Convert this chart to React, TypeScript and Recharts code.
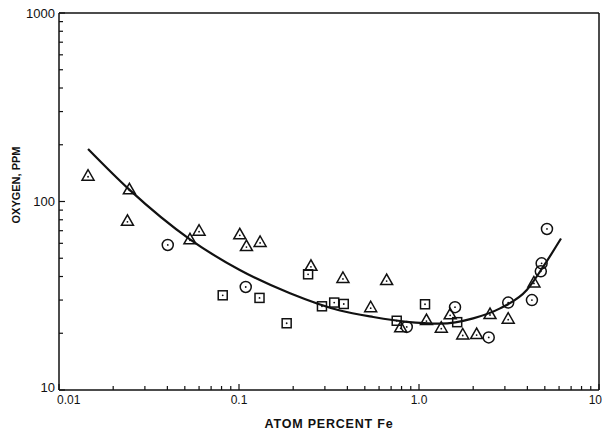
import {
  ComposedChart, Scatter, Line, XAxis, YAxis, ReferenceLine, Label,
} from 'recharts';

// 三角・丸・四角の測定点（atom % Fe, O ppm）
const triX = [0.0145, 0.0246, 0.024, 0.0534, 0.06, 0.101, 0.11, 0.131, 0.251, 0.378, 0.539, 0.661, 0.791, 1.1, 1.33, 1.49, 1.75, 2.09, 2.48, 3.13, 4.35];
const triY = [137, 116, 79, 63, 70, 67, 58, 61, 45.6, 39.3, 27.5, 38.3, 21.5, 23.5, 21.4, 25.2, 19.7, 19.8, 25.3, 23.9, 37.2];

const circX = [0.0402, 0.109, 0.855, 1.585, 2.44, 3.13, 4.24, 4.8, 4.75, 5.14];
const circY = [58.8, 35.2, 21.6, 27.5, 19.0, 29.1, 30.0, 47.0, 42.6, 71.5];

const sqX = [0.0812, 0.13, 0.184, 0.242, 0.289, 0.338, 0.382, 0.752, 1.08, 1.63];
const sqY = [31.8, 30.8, 22.6, 41.1, 27.8, 29.1, 28.6, 23.3, 28.5, 22.9];

// フィット曲線
const curveX = [0.0145, 0.0245, 0.0534, 0.101, 0.192, 0.364, 0.557, 0.855, 1.31, 2.0, 2.82, 3.97, 4.9, 6.15];
const curveY = [190, 116, 63, 43.3, 32.6, 26.4, 24.4, 23.0, 22.5, 24.0, 27.1, 33.9, 45.1, 63.6];

// 軸目盛
const X_MAJOR = [0.01, 0.1, 1, 10];
const X_LABELS = ['0.01', '0.1', '1.0', '10'];
const X_MINOR = [0.02, 0.03, 0.04, 0.05, 0.06, 0.07, 0.08, 0.09, 0.2, 0.3, 0.4, 0.5, 0.6, 0.7, 0.8, 0.9, 2, 3, 4, 5, 6, 7, 8, 9];
const Y_MAJOR = [10, 100, 1000];
const Y_LABELS = ['10', '100', '1000'];
const Y_MINOR = [20, 30, 40, 50, 60, 70, 80, 90, 200, 300, 400, 500, 600, 700, 800, 900];

const zip = (xs: number[], ys: number[]) => xs.map((x, i) => ({ x, y: ys[i] }));
const triData = zip(triX, triY);
const circData = zip(circX, circY);
const sqData = zip(sqX, sqY);
const curveData = zip(curveX, curveY);

const INK = '#111';
const FONT = '"Liberation Sans", Arial, sans-serif';

const Tri = ({ cx, cy }: any) => (
  <g>
    <polygon points={`${cx},${cy - 6} ${cx - 6},${cy + 4.5} ${cx + 6},${cy + 4.5}`} fill="none" stroke={INK} strokeWidth={1.5} />
    <circle cx={cx} cy={cy + 1} r={0.9} fill={INK} />
  </g>
);

const Circ = ({ cx, cy }: any) => (
  <g>
    <circle cx={cx} cy={cy} r={5.5} fill="none" stroke={INK} strokeWidth={1.5} />
    <circle cx={cx} cy={cy} r={0.9} fill={INK} />
  </g>
);

const Sq = ({ cx, cy }: any) => (
  <g>
    <rect x={cx - 4.5} y={cy - 4.5} width={9} height={9} fill="none" stroke={INK} strokeWidth={1.5} />
    <circle cx={cx} cy={cy} r={0.9} fill={INK} />
  </g>
);

const XTick = ({ x, y, payload }: any) => {
  const i = X_MAJOR.indexOf(payload.value);
  const major = i >= 0;
  const first = i === 0;
  const last = i === X_MAJOR.length - 1;
  // 端のラベルは枠内に収める
  const anchor = first ? 'start' : last ? 'end' : 'middle';
  const tx = first ? x - 2 : last ? x + 3 : x;
  return (
    <g>
      <line x1={x} y1={y} x2={x} y2={y - (major ? 6 : 4)} stroke={INK} strokeWidth={1.2} />
      {major && (
        <text x={tx} y={y + 14} textAnchor={anchor}
          fontFamily={FONT} fontSize={12} fill={INK}>{X_LABELS[i]}</text>
      )}
    </g>
  );
};

const YTick = ({ x, y, payload }: any) => {
  const i = Y_MAJOR.indexOf(payload.value);
  const major = i >= 0;
  return (
    <g>
      <line x1={x} y1={y} x2={x + (major ? 6 : 4)} y2={y} stroke={INK} strokeWidth={1.2} />
      {major && (
        <text x={x - 4} y={i === 0 ? y + 2 : y + 4.5} textAnchor="end"
          fontFamily={FONT} fontSize={13} fill={INK}>{Y_LABELS[i]}</text>
      )}
    </g>
  );
};

export default function App() {
  return (
    <div style={{ position: 'absolute', left: 0, top: 0, background: '#fff' }}>
      <ComposedChart width={603} height={432} margin={{ top: 13, right: 4, bottom: 4, left: 0 }}>
        <XAxis
          type="number" dataKey="x" scale="log" domain={[0.01, 10]} allowDataOverflow
          ticks={[...X_MAJOR, ...X_MINOR]} interval={0} tick={<XTick />}
          tickLine={false} tickSize={0} tickMargin={0} height={38}
          axisLine={{ stroke: INK, strokeWidth: 1.5 }}
        >
          <Label value="ATOM PERCENT Fe" position="insideBottom" offset={0}
            style={{ fontFamily: FONT, fontSize: 12.5, fontWeight: 600, fill: INK, letterSpacing: 0.8 }} />
        </XAxis>
        <YAxis
          type="number" dataKey="y" scale="log" domain={[10, 1000]} allowDataOverflow
          ticks={[...Y_MAJOR, ...Y_MINOR]} interval={0} tick={<YTick />}
          tickLine={false} tickSize={0} tickMargin={0} width={59}
          axisLine={{ stroke: INK, strokeWidth: 1.5 }}
          label={{
            content: () => (
              <text x={20} y={185} transform="rotate(-90 20 185)" textAnchor="middle"
                fontFamily={FONT} fontSize={11} fontWeight={600} fill={INK}>OXYGEN, PPM</text>
            ),
          }}
        />
        <ReferenceLine y={1000} stroke={INK} strokeWidth={1.5} />
        <ReferenceLine x={10} stroke={INK} strokeWidth={1.5} />
        <Line data={curveData} dataKey="y" type="monotone" stroke={INK} strokeWidth={2.2}
          dot={false} activeDot={false} isAnimationActive={false} />
        <Scatter data={triData} shape={<Tri />} isAnimationActive={false} />
        <Scatter data={circData} shape={<Circ />} isAnimationActive={false} />
        <Scatter data={sqData} shape={<Sq />} isAnimationActive={false} />
      </ComposedChart>
    </div>
  );
}
